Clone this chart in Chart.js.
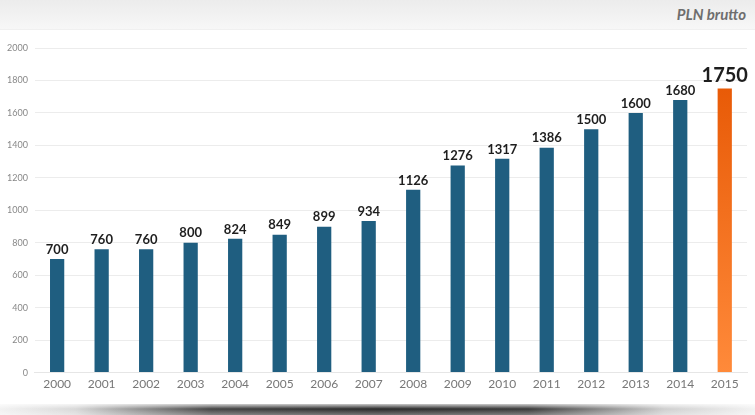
<!DOCTYPE html>
<html>
<head>
<meta charset="utf-8">
<script src="https://cdn.jsdelivr.net/npm/chart.js@4"></script>
<style>
  html, body { margin: 0; padding: 0; background: #fff; }
  body { width: 755px; height: 415px; position: relative; overflow: hidden; font-family: Lato, sans-serif; }
  .header {
    position: absolute; left: 0; top: 0; width: 755px; height: 29px;
    background: linear-gradient(to bottom, #ececec, #f7f7f7);
    border-bottom: 1px solid #f0f0f0;
  }
  .header span {
    position: absolute; right: 9px; top: 5px;
    font: italic bold 15px Lato, sans-serif; color: #6e6e6e;
  }
  .chart { position: absolute; left: 0; top: 30px; width: 755px; height: 365px; }
  .shadow {
    position: absolute; left: 0; top: 404px; width: 755px; height: 11px;
    background: linear-gradient(to right, #f2f2f2 0%, #d8d8d8 10%, #444 28%, #2a2a2a 50%, #3a3a3a 70%, #cfcfcf 88%, #f2f2f2 100%);
  }
  .shadow::after {
    content: ""; position: absolute; left: 0; top: 0; right: 0; bottom: 0;
    background: linear-gradient(to bottom, rgba(255,255,255,0.75), rgba(255,255,255,0) 45%, rgba(255,255,255,0.35));
  }
</style>
</head>
<body>
<div class="header"><span>PLN brutto</span></div>
<div class="chart"><canvas id="c"></canvas></div>
<div class="shadow"></div>
<script>
const years = ["2000", "2001", "2002", "2003", "2004", "2005", "2006", "2007",
               "2008", "2009", "2010", "2011", "2012", "2013", "2014", "2015"];
const wages = [700, 760, 760, 800, 824, 849, 899, 934, 1126, 1276, 1317, 1386, 1500, 1600, 1680, 1750];
const yMax = 2000;
const yStep = 200;

const blue = "#1f5e80";

function barColor(ctx) {
  if (ctx.dataIndex !== years.length - 1) return blue;
  const area = ctx.chart.chartArea;
  if (!area) return "#f26a1b";
  const g = ctx.chart.ctx.createLinearGradient(0, area.top, 0, area.bottom);
  g.addColorStop(0, "#e55400");
  g.addColorStop(1, "#ff8a3a");
  return g;
}

const valueLabels = {
  id: "valueLabels",
  afterDatasetsDraw(chart) {
    const ctx = chart.ctx;
    const meta = chart.getDatasetMeta(0);
    ctx.save();
    ctx.textAlign = "center";
    ctx.textBaseline = "bottom";
    ctx.fillStyle = "#1e1e1e";
    meta.data.forEach((bar, i) => {
      const last = i === wages.length - 1;
      ctx.font = last ? "bold 20px Lato" : "bold 13px Lato";
      ctx.fillText(wages[i], bar.x, bar.y - 3);
    });
    ctx.restore();
  }
};

new Chart(document.getElementById("c"), {
  type: "bar",
  data: {
    labels: years,
    datasets: [{
      data: wages,
      backgroundColor: barColor,
      borderWidth: 0,
      barPercentage: 0.32,
      categoryPercentage: 1
    }]
  },
  options: {
    responsive: true,
    maintainAspectRatio: false,
    animation: false,
    layout: { padding: { left: 0, right: 8, top: 18, bottom: 0 } },
    plugins: { legend: { display: false }, tooltip: { enabled: false } },
    scales: {
      x: {
        grid: { display: false, drawTicks: false },
        border: { color: "#e6e6e6" },
        ticks: { color: "#777", font: { family: "Lato", size: 12 }, padding: 4 }
      },
      y: {
        min: 0,
        max: yMax,
        border: { display: false },
        grid: { color: "#ececec", drawTicks: false },
        ticks: {
          stepSize: yStep, color: "#888", font: { family: "Lato", size: 9 }, padding: 7,
          callback: v => String(v)
        }
      }
    }
  },
  plugins: [valueLabels]
});
</script>
</body>
</html>
